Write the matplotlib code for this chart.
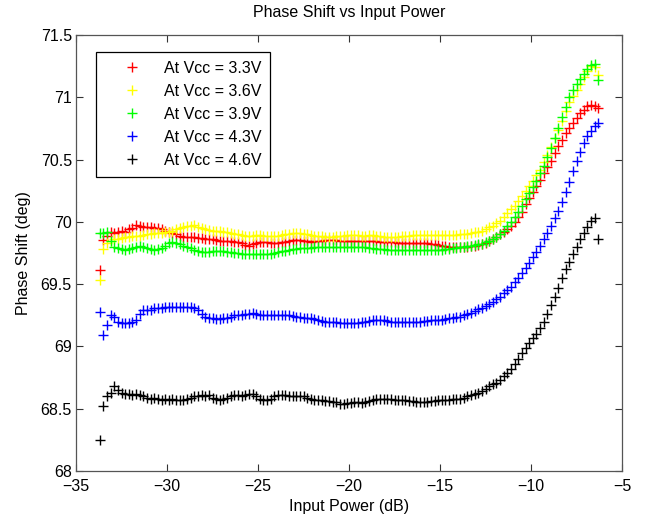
import numpy as np
import matplotlib
matplotlib.use("Agg")
import matplotlib.pyplot as plt

plt.rcParams['font.family'] = ['Liberation Sans', 'DejaVu Sans']

# Input power sweep (dB), 0.2 dB steps from -33.7 to -6.3
input_power = np.round(np.arange(-33.7, -6.29, 0.2), 2)

labels = ["At Vcc = 3.3V", "At Vcc = 3.6V", "At Vcc = 3.9V", "At Vcc = 4.3V", "At Vcc = 4.6V"]
colors = ["#ff0000", "#ffff00", "#00ff00", "#0000ff", "#000000"]

vcc_3p3 = [
    69.61, 69.855, 69.89, 69.92, 69.91, 69.92, 69.93, 69.92, 69.94, 69.95,
    69.975, 69.97, 69.96, 69.96, 69.96, 69.95, 69.95, 69.94, 69.93, 69.92,
    69.91, 69.90, 69.89, 69.88, 69.88, 69.88, 69.875, 69.87, 69.87, 69.865,
    69.86, 69.86, 69.855, 69.85, 69.85, 69.85, 69.845, 69.84, 69.835, 69.83,
    69.815, 69.81, 69.82, 69.83, 69.84, 69.84, 69.835, 69.83, 69.83, 69.83,
    69.835, 69.84, 69.85, 69.855, 69.855, 69.855, 69.85, 69.845, 69.84, 69.845,
    69.85, 69.85, 69.855, 69.855, 69.855, 69.855, 69.85, 69.85, 69.85, 69.85,
    69.85, 69.85, 69.85, 69.845, 69.845, 69.845, 69.845, 69.84, 69.84, 69.84,
    69.84, 69.835, 69.83, 69.83, 69.83, 69.83, 69.83, 69.83, 69.83, 69.83,
    69.83, 69.825, 69.82, 69.815, 69.81, 69.805, 69.80, 69.80, 69.80, 69.80,
    69.80, 69.80, 69.805, 69.81, 69.815, 69.82, 69.83, 69.845, 69.86, 69.88,
    69.90, 69.92, 69.945, 69.97, 70.00, 70.04, 70.08, 70.14, 70.19, 70.24,
    70.29, 70.34, 70.39, 70.44, 70.49, 70.55, 70.61, 70.66, 70.71, 70.75,
    70.79, 70.83, 70.87, 70.90, 70.93, 70.94, 70.93, 70.91,
]

vcc_3p6 = [
    69.53, 69.78, 69.83, 69.85, 69.86, 69.865, 69.87, 69.88, 69.88, 69.885,
    69.89, 69.89, 69.895, 69.90, 69.905, 69.91, 69.91, 69.91, 69.915, 69.92,
    69.93, 69.94, 69.95, 69.96, 69.965, 69.97, 69.975, 69.96, 69.95, 69.94,
    69.935, 69.93, 69.93, 69.925, 69.92, 69.915, 69.91, 69.905, 69.90, 69.895,
    69.89, 69.89, 69.89, 69.895, 69.895, 69.89, 69.89, 69.89, 69.89, 69.89,
    69.895, 69.90, 69.905, 69.91, 69.91, 69.91, 69.905, 69.90, 69.895, 69.89,
    69.885, 69.885, 69.88, 69.88, 69.88, 69.885, 69.89, 69.89, 69.895, 69.895,
    69.895, 69.895, 69.89, 69.89, 69.895, 69.895, 69.89, 69.885, 69.88, 69.88,
    69.88, 69.88, 69.88, 69.885, 69.89, 69.89, 69.895, 69.895, 69.895, 69.895,
    69.895, 69.895, 69.895, 69.895, 69.895, 69.895, 69.895, 69.895, 69.895, 69.90,
    69.90, 69.905, 69.91, 69.915, 69.92, 69.93, 69.94, 69.955, 69.97, 69.99,
    70.01, 70.04, 70.07, 70.10, 70.13, 70.17, 70.21, 70.25, 70.29, 70.33,
    70.38, 70.42, 70.48, 70.54, 70.60, 70.67, 70.74, 70.81, 70.89, 70.96,
    71.01, 71.06, 71.11, 71.16, 71.21, 71.25, 71.24, 71.18,
]

vcc_3p9 = [
    69.91, 69.91, 69.92, 69.85, 69.80, 69.79, 69.78, 69.775, 69.78, 69.79,
    69.80, 69.81, 69.80, 69.79, 69.78, 69.775, 69.78, 69.79, 69.81, 69.83,
    69.835, 69.83, 69.82, 69.81, 69.80, 69.79, 69.775, 69.765, 69.76, 69.755,
    69.76, 69.765, 69.77, 69.77, 69.765, 69.76, 69.755, 69.75, 69.75, 69.745,
    69.74, 69.74, 69.74, 69.74, 69.74, 69.74, 69.74, 69.745, 69.75, 69.76,
    69.765, 69.77, 69.775, 69.78, 69.785, 69.79, 69.79, 69.79, 69.79, 69.795,
    69.80, 69.80, 69.80, 69.80, 69.80, 69.80, 69.80, 69.80, 69.80, 69.80,
    69.80, 69.80, 69.80, 69.795, 69.79, 69.79, 69.785, 69.78, 69.78, 69.775,
    69.775, 69.775, 69.775, 69.775, 69.775, 69.775, 69.775, 69.775, 69.775, 69.775,
    69.775, 69.775, 69.775, 69.775, 69.775, 69.78, 69.785, 69.79, 69.79, 69.795,
    69.80, 69.805, 69.81, 69.815, 69.82, 69.825, 69.835, 69.85, 69.865, 69.88,
    69.90, 69.93, 69.965, 70.00, 70.04, 70.08, 70.13, 70.18, 70.23, 70.28,
    70.33, 70.39, 70.45, 70.52, 70.59, 70.67, 70.75, 70.84, 70.92, 71.00,
    71.06, 71.11, 71.15, 71.19, 71.23, 71.26, 71.27, 71.14,
]

vcc_4p3 = [
    69.28, 69.09, 69.17, 69.25, 69.24, 69.20, 69.19, 69.185, 69.185, 69.20,
    69.21, 69.26, 69.29, 69.295, 69.29, 69.305, 69.31, 69.31, 69.315, 69.32,
    69.32, 69.32, 69.32, 69.315, 69.32, 69.315, 69.31, 69.29, 69.26, 69.24,
    69.23, 69.225, 69.22, 69.22, 69.225, 69.23, 69.24, 69.25, 69.25, 69.255,
    69.26, 69.26, 69.265, 69.26, 69.255, 69.25, 69.25, 69.25, 69.25, 69.25,
    69.25, 69.25, 69.25, 69.245, 69.24, 69.235, 69.23, 69.225, 69.225, 69.22,
    69.21, 69.205, 69.20, 69.20, 69.20, 69.195, 69.19, 69.185, 69.185, 69.185,
    69.19, 69.19, 69.195, 69.20, 69.205, 69.21, 69.21, 69.21, 69.21, 69.205,
    69.20, 69.20, 69.20, 69.20, 69.20, 69.20, 69.20, 69.20, 69.20, 69.205,
    69.205, 69.21, 69.21, 69.21, 69.215, 69.22, 69.225, 69.23, 69.235, 69.24,
    69.25, 69.26, 69.27, 69.285, 69.30, 69.31, 69.325, 69.34, 69.36, 69.38,
    69.40, 69.425, 69.45, 69.48, 69.515, 69.55, 69.59, 69.63, 69.67, 69.715,
    69.76, 69.81, 69.86, 69.91, 69.97, 70.03, 70.09, 70.16, 70.24, 70.32,
    70.41, 70.49, 70.56, 70.63, 70.69, 70.73, 70.77, 70.79,
]

vcc_4p6 = [
    68.25, 68.52, 68.60, 68.63, 68.68, 68.65, 68.63, 68.62, 68.62, 68.61,
    68.62, 68.61, 68.60, 68.59, 68.58, 68.59, 68.58, 68.57, 68.58, 68.57,
    68.58, 68.57, 68.57, 68.57, 68.58, 68.59, 68.60, 68.60, 68.61, 68.60,
    68.61, 68.59, 68.58, 68.57, 68.58, 68.59, 68.60, 68.61, 68.61, 68.60,
    68.61, 68.62, 68.62, 68.60, 68.58, 68.57, 68.57, 68.58, 68.60, 68.61,
    68.61, 68.61, 68.60, 68.60, 68.60, 68.60, 68.60, 68.59, 68.58, 68.57,
    68.57, 68.57, 68.56, 68.56, 68.55, 68.55, 68.54, 68.54, 68.545, 68.545,
    68.55, 68.55, 68.545, 68.55, 68.56, 68.57, 68.58, 68.58, 68.58, 68.58,
    68.58, 68.57, 68.57, 68.57, 68.57, 68.56, 68.56, 68.555, 68.555, 68.555,
    68.555, 68.56, 68.56, 68.57, 68.57, 68.57, 68.57, 68.575, 68.58, 68.58,
    68.59, 68.60, 68.61, 68.62, 68.63, 68.645, 68.66, 68.68, 68.70, 68.71,
    68.73, 68.76, 68.79, 68.82, 68.86, 68.90, 68.95, 68.99, 69.03, 69.07,
    69.10, 69.15, 69.20, 69.26, 69.33, 69.40, 69.47, 69.55, 69.62, 69.68,
    69.74, 69.80, 69.86, 69.91, 69.96, 70.01, 70.03, 69.86,
]

series = [vcc_3p3, vcc_3p6, vcc_3p9, vcc_4p3, vcc_4p6]

x_ticks = [-35, -30, -25, -20, -15, -10, -5]
y_ticks = [68, 68.5, 69, 69.5, 70, 70.5, 71, 71.5]
y_ticklabels = ["68", "68.5", "69", "69.5", "70", "70.5", "71", "71.5"]

fig = plt.figure(figsize=(6.55, 5.17), dpi=100)
ax = fig.add_axes([76 / 655, 46 / 517, 546 / 655, 436 / 517])

for vals, c, lab in zip(series, colors, labels):
    ax.plot(input_power, vals, linestyle='none', marker='+', markersize=7.5,
            markeredgewidth=1.0, color=c, label=lab)

ax.set_xlim(-35, -5)
ax.set_ylim(68, 71.5)
ax.set_xticks(x_ticks)
ax.set_xticklabels([str(t).replace('-', '\u2212') for t in x_ticks])
ax.set_yticks(y_ticks)
ax.set_yticklabels(y_ticklabels)

ax.tick_params(direction='in', length=5, width=0.8, top=True, right=True,
               labelsize=11.5, colors='#333333', labelcolor='black')
ax.tick_params(axis='x', pad=6)
ax.tick_params(axis='y', pad=3)
for s in ax.spines.values():
    s.set_color('#555555')
    s.set_linewidth(0.9)

ax.set_title("Phase Shift vs Input Power", fontsize=11.5, pad=13)
ax.set_xlabel("Input Power (dB)", fontsize=11.5, labelpad=3)
ax.set_ylabel("Phase Shift (deg)", fontsize=11.5, labelpad=7)

leg = ax.legend(loc='upper left', bbox_to_anchor=((95.7 - 76) / 546, (471 - 52.3) / 436),
                borderaxespad=0, fancybox=False, edgecolor='black', framealpha=1,
                fontsize=11.5, numpoints=1, handlelength=3.4, handletextpad=0.3,
                borderpad=0.55, labelspacing=0.5, markerscale=0.9)
leg.get_frame().set_linewidth(0.9)

fig.savefig("out.png", dpi=100)
